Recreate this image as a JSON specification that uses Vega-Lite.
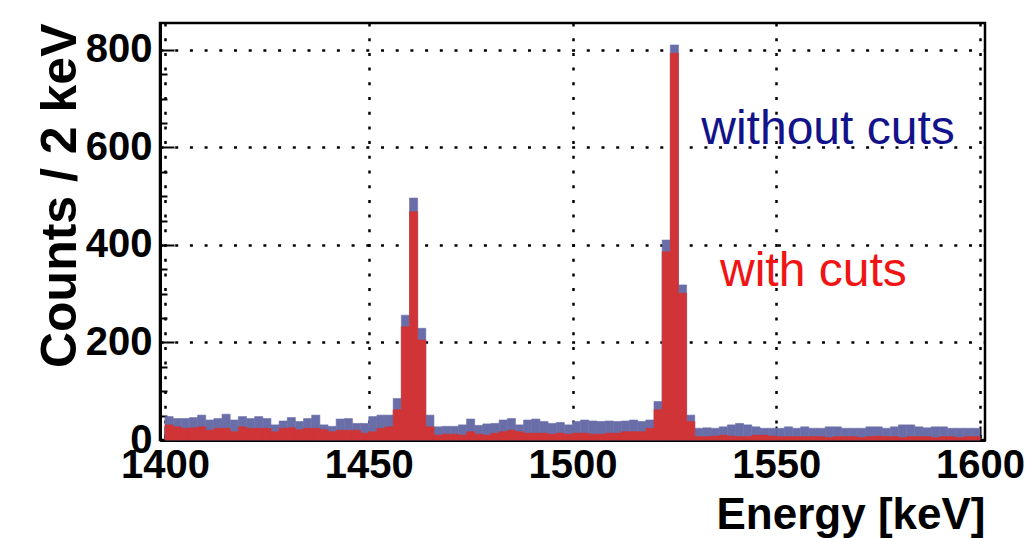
{
  "$schema": "https://vega.github.io/schema/vega-lite/v6.json",
  "width": 825,
  "height": 417,
  "autosize": {"type": "none"},
  "padding": {"left": 160, "top": 23, "right": 46, "bottom": 98},
  "background": "white",
  "config": {
    "font": "Liberation Sans",
    "view": {"stroke": "black", "strokeWidth": 2.5},
    "axis": {
      "domainColor": "black", "domainWidth": 3, "tickColor": "black", "tickWidth": 2,
      "labelFont": "Liberation Sans", "labelFontWeight": "bold", "labelColor": "black",
      "titleFont": "Liberation Sans", "titleFontWeight": "bold", "titleColor": "black",
      "gridColor": "black", "gridDash": [3, 11.7], "gridWidth": 2.5, "gridOpacity": 1
    }
  },
  "datasets": {
    "hist": [
      {"lo":1400,"hi":1402,"without":48,"with":31},{"lo":1402,"hi":1404,"without":44,"with":27},
      {"lo":1404,"hi":1406,"without":44,"with":24},{"lo":1406,"hi":1408,"without":46,"with":25},
      {"lo":1408,"hi":1410,"without":51,"with":27},{"lo":1410,"hi":1412,"without":41,"with":20},
      {"lo":1412,"hi":1414,"without":44,"with":24},{"lo":1414,"hi":1416,"without":53,"with":24},
      {"lo":1416,"hi":1418,"without":41,"with":17},{"lo":1418,"hi":1420,"without":48,"with":27},
      {"lo":1420,"hi":1422,"without":44,"with":24},{"lo":1422,"hi":1424,"without":48,"with":24},
      {"lo":1424,"hi":1426,"without":44,"with":24},{"lo":1426,"hi":1428,"without":31,"with":17},
      {"lo":1428,"hi":1430,"without":39,"with":24},{"lo":1430,"hi":1432,"without":46,"with":25},
      {"lo":1432,"hi":1434,"without":38,"with":21},{"lo":1434,"hi":1436,"without":44,"with":24},
      {"lo":1436,"hi":1438,"without":51,"with":24},{"lo":1438,"hi":1440,"without":31,"with":21},
      {"lo":1440,"hi":1442,"without":28,"with":17},{"lo":1442,"hi":1444,"without":43,"with":20},
      {"lo":1444,"hi":1446,"without":44,"with":20},{"lo":1446,"hi":1448,"without":34,"with":20},
      {"lo":1448,"hi":1450,"without":34,"with":14},{"lo":1450,"hi":1452,"without":48,"with":17},
      {"lo":1452,"hi":1454,"without":51,"with":24},{"lo":1454,"hi":1456,"without":51,"with":27},
      {"lo":1456,"hi":1458,"without":85,"with":62},{"lo":1458,"hi":1460,"without":256,"with":232},
      {"lo":1460,"hi":1462,"without":496,"with":468},{"lo":1462,"hi":1464,"without":229,"with":205},
      {"lo":1464,"hi":1466,"without":51,"with":27},{"lo":1466,"hi":1468,"without":27,"with":10},
      {"lo":1468,"hi":1470,"without":28,"with":12},{"lo":1470,"hi":1472,"without":28,"with":12},
      {"lo":1472,"hi":1474,"without":31,"with":10},{"lo":1474,"hi":1476,"without":43,"with":17},
      {"lo":1476,"hi":1478,"without":30,"with":12},{"lo":1478,"hi":1480,"without":33,"with":10},
      {"lo":1480,"hi":1482,"without":34,"with":14},{"lo":1482,"hi":1484,"without":41,"with":17},
      {"lo":1484,"hi":1486,"without":44,"with":20},{"lo":1486,"hi":1488,"without":31,"with":17},
      {"lo":1488,"hi":1490,"without":41,"with":14},{"lo":1490,"hi":1492,"without":43,"with":14},
      {"lo":1492,"hi":1494,"without":38,"with":14},{"lo":1494,"hi":1496,"without":34,"with":12},
      {"lo":1496,"hi":1498,"without":36,"with":14},{"lo":1498,"hi":1500,"without":31,"with":12},
      {"lo":1500,"hi":1502,"without":38,"with":14},{"lo":1502,"hi":1504,"without":41,"with":14},
      {"lo":1504,"hi":1506,"without":39,"with":12},{"lo":1506,"hi":1508,"without":38,"with":12},
      {"lo":1508,"hi":1510,"without":39,"with":14},{"lo":1510,"hi":1512,"without":38,"with":14},
      {"lo":1512,"hi":1514,"without":39,"with":17},{"lo":1514,"hi":1516,"without":41,"with":17},
      {"lo":1516,"hi":1518,"without":38,"with":17},{"lo":1518,"hi":1520,"without":41,"with":24},
      {"lo":1520,"hi":1522,"without":79,"with":62},{"lo":1522,"hi":1524,"without":410,"with":386},
      {"lo":1524,"hi":1526,"without":810,"with":793},{"lo":1526,"hi":1528,"without":318,"with":301},
      {"lo":1528,"hi":1530,"without":51,"with":38},{"lo":1530,"hi":1532,"without":24,"with":7},
      {"lo":1532,"hi":1534,"without":25,"with":7},{"lo":1534,"hi":1536,"without":24,"with":8},
      {"lo":1536,"hi":1538,"without":27,"with":10},{"lo":1538,"hi":1540,"without":31,"with":8},
      {"lo":1540,"hi":1542,"without":34,"with":7},{"lo":1542,"hi":1544,"without":31,"with":7},
      {"lo":1544,"hi":1546,"without":27,"with":10},{"lo":1546,"hi":1548,"without":24,"with":10},
      {"lo":1548,"hi":1550,"without":24,"with":8},{"lo":1550,"hi":1552,"without":24,"with":7},
      {"lo":1552,"hi":1554,"without":27,"with":7},{"lo":1554,"hi":1556,"without":24,"with":7},
      {"lo":1556,"hi":1558,"without":27,"with":7},{"lo":1558,"hi":1560,"without":24,"with":7},
      {"lo":1560,"hi":1562,"without":24,"with":7},{"lo":1562,"hi":1564,"without":27,"with":5},
      {"lo":1564,"hi":1566,"without":27,"with":7},{"lo":1566,"hi":1568,"without":24,"with":7},
      {"lo":1568,"hi":1570,"without":24,"with":7},{"lo":1570,"hi":1572,"without":24,"with":5},
      {"lo":1572,"hi":1574,"without":27,"with":7},{"lo":1574,"hi":1576,"without":27,"with":8},
      {"lo":1576,"hi":1578,"without":24,"with":7},{"lo":1578,"hi":1580,"without":27,"with":7},
      {"lo":1580,"hi":1582,"without":31,"with":5},{"lo":1582,"hi":1584,"without":31,"with":7},
      {"lo":1584,"hi":1586,"without":27,"with":7},{"lo":1586,"hi":1588,"without":25,"with":7},
      {"lo":1588,"hi":1590,"without":27,"with":5},{"lo":1590,"hi":1592,"without":27,"with":7},
      {"lo":1592,"hi":1594,"without":24,"with":7},{"lo":1594,"hi":1596,"without":24,"with":5},
      {"lo":1596,"hi":1598,"without":24,"with":7},{"lo":1598,"hi":1600,"without":24,"with":7}
    ],
    "notes": [
      {"e": 1531.6, "c": 636, "label": "without cuts", "series": "without"},
      {"e": 1536.2, "c": 345, "label": "with cuts", "series": "with"}
    ]
  },
  "layer": [
    {
      "data": {"name": "hist"},
      "mark": {"type": "bar", "orient": "vertical", "color": "#6a6ea8", "stroke": "#6a6ea8", "strokeWidth": 0.6},
      "encoding": {
        "x": {"field": "lo", "type": "quantitative", "scale": {"domain": [1400, 1600], "nice": false, "zero": false},
          "axis": {"values": [1400, 1450, 1500, 1550, 1600], "format": "d", "tickSize": -14, "labelFontSize": 40, "labelPadding": 19,
            "labelFlush": false, "labelOverlap": false, "grid": true, "title": "Energy [keV]", "titleFontSize": 44,
            "titleAnchor": "end", "titlePadding": 8}},
        "x2": {"field": "hi"},
        "y": {"field": "without", "type": "quantitative", "stack": null, "scale": {"domain": [0, 855], "nice": false},
          "axis": {"values": [0, 200, 400, 600, 800], "tickSize": -14, "labelFontSize": 40, "labelPadding": 22,
            "labelOverlap": false, "labelFlush": false, "grid": true, "title": "Counts / 2 keV", "titleFontSize": 50,
            "titleAnchor": "end", "titlePadding": 0}},
        "y2": {"datum": 0}
      }
    },
    {
      "data": {"name": "hist"},
      "mark": {"type": "bar", "orient": "vertical", "color": "#d13436", "stroke": "#d13436", "strokeWidth": 0.6},
      "encoding": {
        "x": {"field": "lo", "type": "quantitative"},
        "x2": {"field": "hi"},
        "y": {"field": "with", "type": "quantitative", "stack": null, "axis": null},
        "y2": {"datum": 0}
      }
    },
    {
      "data": {"name": "hist"},
      "mark": {"type": "point", "opacity": 0},
      "encoding": {
        "y": {"field": "with", "type": "quantitative",
          "axis": {"orient": "left", "values": [50, 100, 150, 250, 300, 350, 450, 500, 550, 650, 700, 750], "tickSize": -7,
            "labels": false, "domain": false, "grid": false, "title": null}}
      }
    },
    {
      "data": {"name": "notes"},
      "transform": [{"filter": "datum.series == 'without'"}],
      "mark": {"type": "text", "align": "left", "baseline": "middle", "fontSize": 48, "font": "Liberation Sans", "color": "#12128a"},
      "encoding": {
        "x": {"field": "e", "type": "quantitative"},
        "y": {"field": "c", "type": "quantitative", "axis": null},
        "text": {"field": "label"}
      }
    },
    {
      "data": {"name": "notes"},
      "transform": [{"filter": "datum.series == 'with'"}],
      "mark": {"type": "text", "align": "left", "baseline": "middle", "fontSize": 48, "font": "Liberation Sans", "color": "#f01414"},
      "encoding": {
        "x": {"field": "e", "type": "quantitative"},
        "y": {"field": "c", "type": "quantitative", "axis": null},
        "text": {"field": "label"}
      }
    }
  ],
  "resolve": {"axis": {"y": "independent"}}
}
